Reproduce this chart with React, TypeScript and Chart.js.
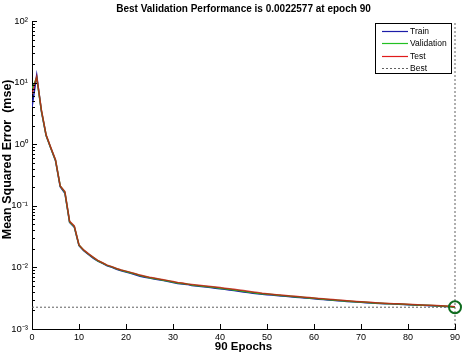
import React, { useEffect, useRef } from "react";
import { Chart, registerables } from "chart.js";

Chart.register(...registerables);

const FONT = "'Liberation Sans', Arial, Helvetica, sans-serif";

const TITLE = "Best Validation Performance is 0.0022577 at epoch 90";
const X_TITLE = "90 Epochs";
const Y_TITLE = "Mean Squared Error  (mse)";
const LEGEND_LABELS = ["Train", "Validation", "Test", "Best"];

const BEST_EPOCH = 90;
const BEST_PERF = 0.0022577;

const X_TICKS = [0, 10, 20, 30, 40, 50, 60, 70, 80, 90];
const Y_TICKS = [1e-3, 1e-2, 1e-1, 1, 10, 100];
const Y_TICK_LABELS = ["10⁻³", "10⁻²", "10⁻¹", "10⁰", "10¹", "10²"];

// performance per epoch 0..90
const trainPerf = [
  4.0, 13.2, 3.4, 1.38, 0.86, 0.54, 0.205, 0.16, 0.054, 0.045,
  0.0225, 0.0186, 0.0162, 0.0142, 0.0126, 0.0116, 0.0106, 0.01, 0.0093, 0.0088,
  0.0084, 0.008, 0.0076, 0.0072, 0.0069, 0.0067, 0.0065, 0.0063, 0.0061, 0.0059,
  0.0057, 0.0055, 0.0054, 0.0053, 0.0051, 0.005, 0.0049, 0.0048, 0.0047, 0.0046,
  0.0045, 0.0044, 0.0043, 0.0042, 0.0041, 0.004, 0.0039, 0.0038, 0.00373, 0.00367,
  0.0036, 0.00355, 0.0035, 0.00344, 0.00339, 0.00334, 0.00329, 0.00324, 0.0032, 0.00315,
  0.0031, 0.00305, 0.003, 0.00296, 0.00292, 0.00288, 0.00284, 0.0028, 0.00277, 0.00274,
  0.00271, 0.00268, 0.00265, 0.00262, 0.0026, 0.00258, 0.00256, 0.00254, 0.00252, 0.0025,
  0.00248, 0.00246, 0.00244, 0.00242, 0.0024, 0.00238, 0.00236, 0.00234, 0.00232, 0.0023,
  0.00228,
];

const valPerf = [
  8.0, 12.0, 3.5, 1.4, 0.87, 0.55, 0.21, 0.165, 0.055, 0.046,
  0.023, 0.019, 0.0165, 0.0145, 0.0128, 0.0118, 0.0108, 0.0102, 0.0095, 0.009,
  0.0086, 0.0082, 0.0078, 0.0074, 0.0071, 0.0068, 0.0066, 0.0064, 0.0062, 0.006,
  0.0058, 0.0056, 0.0055, 0.0054, 0.0052, 0.0051, 0.005, 0.0049, 0.0048, 0.0047,
  0.0046, 0.0045, 0.0044, 0.0043, 0.0042, 0.0041, 0.004, 0.0039, 0.0038, 0.00375,
  0.0037, 0.00363, 0.00357, 0.0035, 0.00345, 0.0034, 0.00335, 0.0033, 0.00325, 0.0032,
  0.00315, 0.0031, 0.00305, 0.003, 0.00296, 0.00292, 0.00288, 0.00284, 0.0028, 0.00277,
  0.00274, 0.00271, 0.00268, 0.00265, 0.00262, 0.0026, 0.00258, 0.00256, 0.00254, 0.00252,
  0.0025, 0.00248, 0.00246, 0.00244, 0.00242, 0.0024, 0.00238, 0.00236, 0.00233, 0.0023,
  0.0022577,
];

const testPerf = [
  6.5, 12.5, 3.6, 1.42, 0.88, 0.56, 0.21, 0.17, 0.056, 0.047,
  0.0232, 0.0192, 0.0167, 0.0147, 0.013, 0.0119, 0.0109, 0.0103, 0.0096, 0.0091,
  0.0087, 0.0083, 0.0079, 0.0075, 0.0072, 0.0069, 0.0067, 0.0065, 0.0063, 0.0061,
  0.0059, 0.0057, 0.0056, 0.0054, 0.0053, 0.0052, 0.0051, 0.005, 0.0049, 0.0048,
  0.0047, 0.0046, 0.0045, 0.0044, 0.0043, 0.0042, 0.0041, 0.004, 0.0039, 0.0038,
  0.00375, 0.00368, 0.00361, 0.00355, 0.0035, 0.00344, 0.00339, 0.00334, 0.00329, 0.00324,
  0.00319, 0.00314, 0.00309, 0.00304, 0.003, 0.00296, 0.00292, 0.00288, 0.00284, 0.0028,
  0.00277, 0.00274, 0.00271, 0.00268, 0.00265, 0.00262, 0.0026, 0.00258, 0.00256, 0.00254,
  0.00252, 0.0025, 0.00248, 0.00246, 0.00244, 0.00242, 0.0024, 0.00238, 0.00236, 0.00233,
  0.0023,
];

const TRAIN_COLOR = "#1c1ca8";
const VAL_COLOR = "#22c022";
const TEST_COLOR = "#e01a1a";
const TEST_LINE_COLOR = "rgba(200,24,20,0.82)";
const BEST_COLOR = "#606060";
const CIRCLE_COLOR = "#0e6b1e";

const toPoints = (arr: number[]) => arr.map((y, i) => ({ x: i, y }));

const matlabPlugin = {
  id: "matlabDecor",
  afterDraw(chart: any) {
    const ctx = chart.ctx as CanvasRenderingContext2D;
    const { left, right, top, bottom } = chart.chartArea;
    const xs = chart.scales.x;
    const ys = chart.scales.y;
    ctx.save();
    ctx.strokeStyle = "#000";
    ctx.lineWidth = 1;
    ctx.beginPath();
    X_TICKS.forEach((v) => {
      const px = Math.round(xs.getPixelForValue(v)) + 0.5;
      ctx.moveTo(px, bottom);
      ctx.lineTo(px, bottom - 5);
    });
    Y_TICKS.forEach((v, i) => {
      const py = Math.round(ys.getPixelForValue(v)) + 0.5;
      ctx.moveTo(left, py);
      ctx.lineTo(left + 5, py);
      if (i < Y_TICKS.length - 1) {
        for (let m = 2; m <= 9; m++) {
          const pm = Math.round(ys.getPixelForValue(v * m)) + 0.5;
          ctx.moveTo(left, pm);
          ctx.lineTo(left + 3, pm);
        }
      }
    });
    ctx.stroke();

    // legend box
    const bx = right - 80;
    const by = top + 2;
    const bw = 76;
    const bh = 50;
    ctx.fillStyle = "#fff";
    ctx.fillRect(bx, by, bw, bh);
    ctx.strokeStyle = "#000";
    ctx.lineWidth = 1;
    ctx.strokeRect(Math.round(bx) + 0.5, Math.round(by) + 0.5, bw, bh);
    const colors = [TRAIN_COLOR, VAL_COLOR, TEST_COLOR, BEST_COLOR];
    ctx.font = `8.5px ${FONT}`;
    ctx.textBaseline = "middle";
    ctx.textAlign = "left";
    LEGEND_LABELS.forEach((lab, i) => {
      const yy = Math.round(by + 8 + i * 12.3) + 0.5;
      ctx.strokeStyle = colors[i];
      ctx.lineWidth = i === 3 ? 1 : 1.2;
      ctx.setLineDash(i === 3 ? [2, 2] : []);
      ctx.beginPath();
      ctx.moveTo(bx + 7, yy);
      ctx.lineTo(bx + 33, yy);
      ctx.stroke();
      ctx.setLineDash([]);
      ctx.fillStyle = "#000";
      ctx.fillText(lab, bx + 35, yy);
    });
    ctx.restore();
  },
};

export default function App() {
  const ref = useRef<HTMLCanvasElement>(null);
  useEffect(() => {
    const canvas = ref.current;
    if (!canvas) return;
    const chart = new Chart(canvas, {
      type: "line",
      data: {
        datasets: [
          {
            label: "Best point",
            data: [{ x: BEST_EPOCH, y: BEST_PERF }],
            showLine: false,
            pointRadius: 6,
            pointBorderWidth: 2,
            pointBorderColor: CIRCLE_COLOR,
            pointBackgroundColor: "rgba(0,0,0,0)",
            clip: false,
          } as any,
          {
            label: LEGEND_LABELS[2],
            data: toPoints(testPerf),
            borderColor: TEST_LINE_COLOR,
            borderWidth: 1.5,
            pointRadius: 0,
            tension: 0,
          },
          {
            label: LEGEND_LABELS[1],
            data: toPoints(valPerf),
            borderColor: VAL_COLOR,
            borderWidth: 1.5,
            pointRadius: 0,
            tension: 0,
          },
          {
            label: LEGEND_LABELS[0],
            data: toPoints(trainPerf),
            borderColor: TRAIN_COLOR,
            borderWidth: 1.5,
            pointRadius: 0,
            tension: 0,
          },
          {
            label: LEGEND_LABELS[3],
            data: [
              { x: 0, y: BEST_PERF },
              { x: BEST_EPOCH, y: BEST_PERF },
            ],
            borderColor: BEST_COLOR,
            borderWidth: 1,
            borderDash: [2, 2],
            pointRadius: 0,
            clip: false,
          } as any,
          {
            label: "Best epoch",
            data: [
              { x: BEST_EPOCH, y: Y_TICKS[0] },
              { x: BEST_EPOCH, y: Y_TICKS[Y_TICKS.length - 1] },
            ],
            borderColor: BEST_COLOR,
            borderWidth: 1,
            borderDash: [2, 2],
            pointRadius: 0,
            clip: false,
          } as any,
        ],
      },
      options: {
        responsive: false,
        animation: false,
        devicePixelRatio: 1,
        layout: { padding: { left: 0, right: 12, top: 0, bottom: 0 } },
        plugins: {
          legend: { display: false },
          tooltip: { enabled: false },
          title: {
            display: true,
            text: TITLE,
            color: "#000",
            fullSize: false,
            font: { family: FONT, size: 10, weight: "bold" },
            padding: { top: 3, bottom: 6 },
          },
        },
        scales: {
          x: {
            type: "linear",
            min: 0,
            max: 90,
            afterBuildTicks: (s: any) => {
              s.ticks = X_TICKS.map((v) => ({ value: v }));
            },
            afterFit: (s: any) => {
              s.height = 27;
            },
            ticks: {
              color: "#000",
              font: { family: FONT, size: 9 },
              padding: 3,
              maxRotation: 0,
              autoSkip: false,
            },
            grid: { display: false, drawTicks: false },
            border: { display: true, color: "#000", width: 1 },
            title: {
              display: true,
              text: X_TITLE,
              color: "#000",
              font: { family: FONT, size: 11.5, weight: "bold" },
              padding: { top: 0, bottom: 2 },
            },
          },
          y: {
            type: "logarithmic",
            min: Y_TICKS[0],
            max: Y_TICKS[Y_TICKS.length - 1],
            afterBuildTicks: (s: any) => {
              s.ticks = Y_TICKS.map((v) => ({ value: v }));
            },
            afterFit: (s: any) => {
              s.width = 32;
            },
            ticks: {
              color: "#000",
              font: { family: FONT, size: 9.5 },
              padding: 4,
              autoSkip: false,
              callback: (v: any) => {
                const k = Math.round(Math.log10(Number(v))) + 3;
                return Y_TICK_LABELS[k] ?? "";
              },
            },
            grid: { display: false, drawTicks: false },
            border: { display: true, color: "#000", width: 1 },
            title: {
              display: true,
              text: "         " + Y_TITLE,
              color: "#000",
              font: { family: FONT, size: 12.5, weight: "bold" },
              padding: { top: 0, bottom: 0 },
            },
          },
        },
      } as any,
      plugins: [matlabPlugin],
    });
    return () => chart.destroy();
  }, []);
  return (
    <div style={{ position: "absolute", left: 0, top: 0, width: 467, height: 356, background: "#fff" }}>
      <canvas ref={ref} width={467} height={356} style={{ display: "block", width: 467, height: 356 }} />
    </div>
  );
}
